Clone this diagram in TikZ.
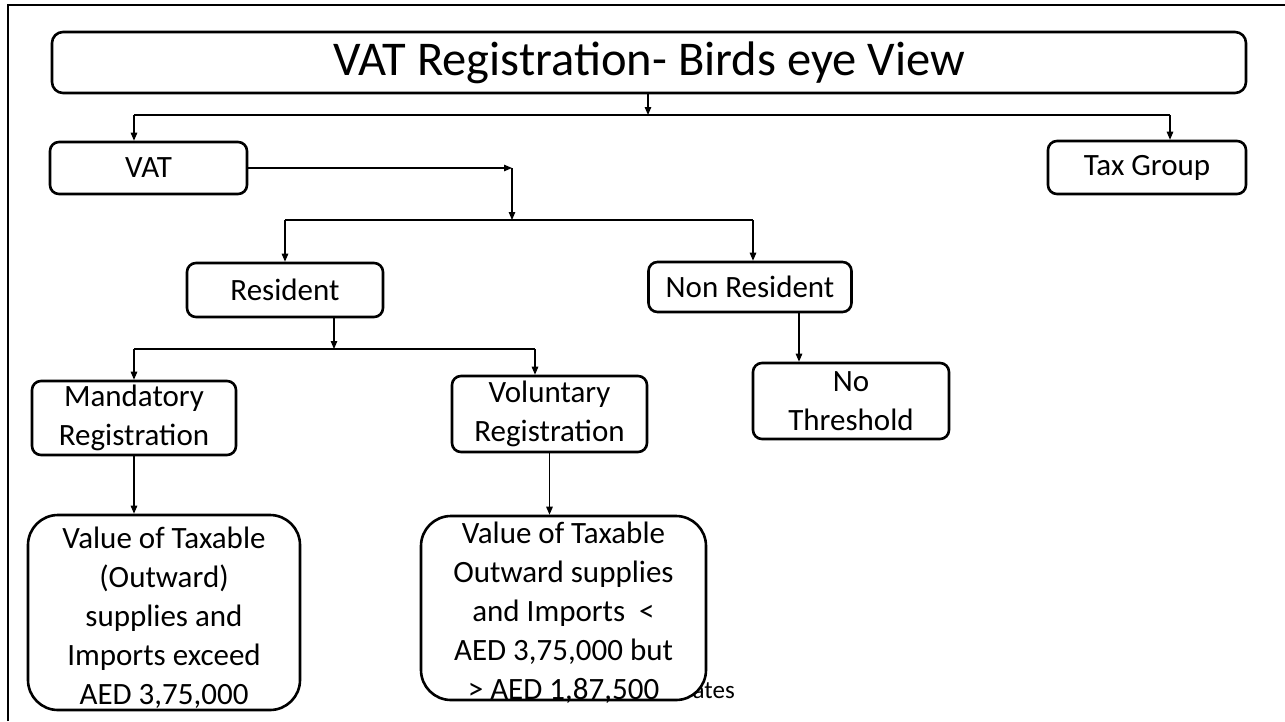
\documentclass[tikz,border=0pt]{standalone}
\usepackage{fontspec}
\setmainfont{Carlito}
\usetikzlibrary{arrows.meta}

\tikzset{
  box/.style={draw, line width=2.6pt, rounded corners=9pt, fill=white,
              inner sep=0pt, align=center,
              font=\fontsize{31}{38.5}\selectfont},
  bigbox/.style={box, rounded corners=30pt},
  boxtext/.style={inner sep=0pt, align=center, font=\fontsize{31}{39}\selectfont},
  link/.style={line width=1.2pt},
  arr/.style={link, -{Triangle[length=8pt,width=6.5pt]}},
}

\begin{document}
\begin{tikzpicture}[x=1pt, y=-1pt]
  \useasboundingbox (0,0) rectangle (1285,721);

  % slide frame (top and left edges)
  \draw[line width=2.2pt] (8,721) -- (8,5) -- (1285,5);

  % title
  \node[box, rounded corners=11pt, minimum width=1194pt, minimum height=61pt,
        font=\fontsize{48.5}{56}\selectfont] (title) at (649,62.5)
        {\raisebox{-4pt}{VAT Registration- Birds eye View}};

  % first level
  \node[box, minimum width=197pt, minimum height=52pt] (vat) at (148.5,168) {VAT};
  \node[box, minimum width=198pt, minimum height=53pt] (tax) at (1147,167.5) {Tax Group};

  % residency
  \node[box, minimum width=196pt, minimum height=54pt] (res) at (285,290) {Resident};
  \node[box, minimum width=203pt, minimum height=50pt] (nres) at (750,287) {Non Resident};

  % registration type
  \node[box, minimum width=204pt, minimum height=74pt] (mand) at (134,418)
        {Mandatory\\Registration};
  \node[box, minimum width=195pt, minimum height=76pt] (vol) at (549.5,414)
        {Voluntary\\Registration};
  \node[box, minimum width=196pt, minimum height=76pt] (thr) at (851,401)
        {No\\Threshold};

  % footer text, partly covered by the threshold box
  \node[anchor=base east, inner sep=0pt, font=\fontsize{25}{30}\selectfont] (foot)
        at (735,698) {ates};

  % thresholds: boxes, then their text (which may run past the border)
  \node[bigbox, minimum width=272pt, minimum height=195pt] (mval) at (164,612.5) {};
  \node[bigbox, minimum width=285pt, minimum height=184pt] (vval) at (563.5,608) {};
  \node[boxtext] (mvaltext) at ([yshift=-5pt]mval.center)
        {Value of Taxable\\(Outward)\\supplies and\\Imports exceed\\AED 3,75,000};
  \node[boxtext] (vvaltext) at ([yshift=-4.5pt]vval.center)
        {Value of Taxable\\Outward supplies\\and Imports\ \ <\\AED 3,75,000 but\\> AED 1,87,500};

  % junction points
  \coordinate (t0) at (648,115);
  \coordinate (hA) at (134,115);
  \coordinate (hB) at (1170,115);
  \coordinate (k1) at (512,168);
  \coordinate (k2) at (512,220);
  \coordinate (rA) at (285,220);
  \coordinate (rB) at (753,220);
  \coordinate (m0) at (334,349);
  \coordinate (mA) at (134,349);
  \coordinate (mB) at (535,349);
  \coordinate (n0) at (799,0);

  % title to VAT / Tax Group
  \draw[arr] (title.south -| t0) -- (t0);
  \draw[link] (hA) -- (hB);
  \draw[arr] (hA) -- (hA |- vat.north);
  \draw[arr] (hB) -- (hB |- tax.north);

  % VAT to residency
  \draw[arr] (vat.east) -- (k1);
  \draw[arr] (k1) -- (k2);
  \draw[link] (rA) -- (rB);
  \draw[arr] (rA) -- (rA |- res.north);
  \draw[arr] (rB) -- (rB |- nres.north);

  % Resident to registration types
  \draw[arr] (res.south -| m0) -- (m0);
  \draw[link] (mA) -- (mB);
  \draw[arr] (mA) -- (mA |- mand.north);
  \draw[arr] (mB) -- (mB |- vol.north);

  % Non Resident to threshold
  \draw[arr] (nres.south -| n0) -- (n0 |- thr.north);

  % registration types to values
  \draw[arr] (mand.south) -- (mand.south |- mval.north);
  \draw[arr] (vol.south) -- (vol.south |- vval.north);
\end{tikzpicture}
\end{document}
